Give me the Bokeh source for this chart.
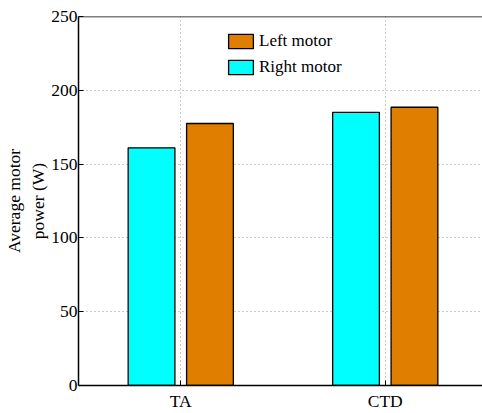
from bokeh.plotting import figure
from bokeh.models import (ColumnDataSource, FixedTicker, Legend, LegendItem, Span, Range1d)
from bokeh.embed import file_html
from bokeh.resources import INLINE

categories = ["TA", "CTD"]
left_motor = [177.5, 188.5]
right_motor = [161.0, 185.0]
y_ticks = [0, 50, 100, 150, 200, 250]

FONT = "Liberation Serif"
ORANGE = "#E07E00"
CYAN = "#00FFFF"

xs = [i + 1 for i in range(len(categories))]
off = 1.0 / 7.0
bw = 0.8 / 3.5

src_r = ColumnDataSource(dict(x=[v - off for v in xs], top=right_motor))
src_l = ColumnDataSource(dict(x=[v + off for v in xs], top=left_motor))

p = figure(width=482, height=413, output_backend="svg", toolbar_location=None,
           x_range=Range1d(0.5, 2.4756), y_range=Range1d(0, 250))
p.min_border_left = 78
p.min_border_right = 0
p.min_border_top = 16
p.min_border_bottom = 28
p.outline_line_color = None
p.background_fill_color = "white"
p.border_fill_color = "white"

r_r = p.vbar(x="x", top="top", width=bw, source=src_r, fill_color=CYAN,
             line_color="black", line_width=1.3)
r_l = p.vbar(x="x", top="top", width=bw, source=src_l, fill_color=ORANGE,
             line_color="black", line_width=1.3)

# axes
p.xaxis.ticker = FixedTicker(ticks=xs)
p.xaxis.major_label_overrides = {x: c for x, c in zip(xs, categories)}
p.yaxis.ticker = FixedTicker(ticks=y_ticks)
for ax in (p.xaxis[0], p.yaxis[0]):
    ax.axis_line_color = "black"
    ax.axis_line_width = 1.5
    ax.major_tick_line_color = "black"
    ax.major_tick_line_width = 1
    ax.major_tick_in = 5
    ax.major_tick_out = 0
    ax.minor_tick_line_color = None
    ax.major_label_text_font = FONT
    ax.major_label_text_font_size = "17.5px"
    ax.major_label_text_color = "black"
p.xaxis.major_label_standoff = 5
p.yaxis.major_label_standoff = 1
p.yaxis.axis_label = "Average motor\npower (W)"
p.yaxis.axis_label_text_font = FONT
p.yaxis.axis_label_text_font_size = "17.5px"
p.yaxis.axis_label_text_font_style = "normal"
p.yaxis.axis_label_text_color = "black"
p.yaxis.axis_label_standoff = 0

# grid
for g in (p.xgrid[0], p.ygrid[0]):
    g.grid_line_color = "#9a9a9a"
    g.grid_line_dash = "1 3"
    g.grid_line_width = 1

# top box line
p.add_layout(Span(location=250, dimension="width", line_color="black", line_width=1.5))

legend = Legend(items=[LegendItem(label="Left motor", renderers=[r_l]),
                       LegendItem(label="Right motor", renderers=[r_r])],
                location=(147, 308))
legend.glyph_width = 31
legend.glyph_height = 18
legend.spacing = 6
legend.padding = 0
legend.margin = 0
legend.label_standoff = 3
legend.label_text_font = FONT
legend.label_text_font_size = "17px"
legend.label_text_color = "black"
legend.border_line_color = None
legend.background_fill_alpha = 0
legend.label_height = 18
p.add_layout(legend)

open("out.html", "w").write(file_html(p, INLINE))
